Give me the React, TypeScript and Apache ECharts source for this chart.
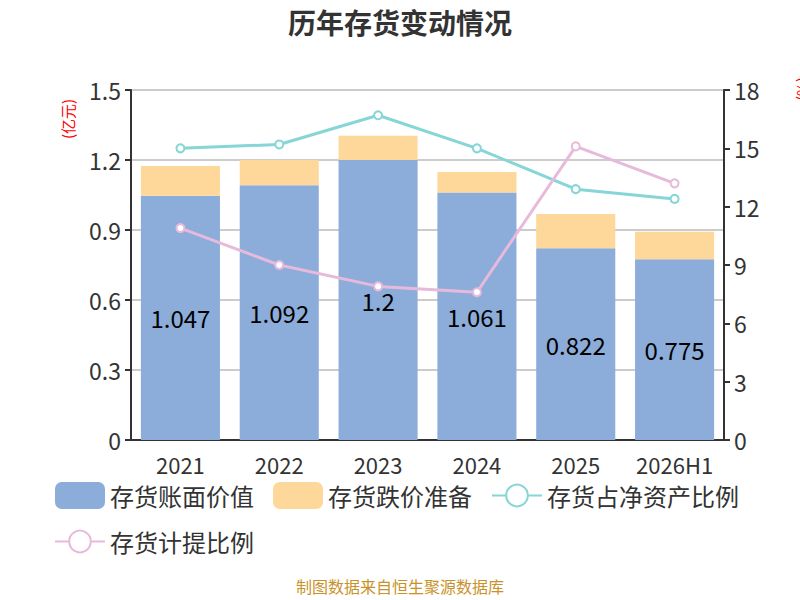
import React, { useEffect, useRef } from 'react';
import * as echarts from 'echarts';

const categories = ['2021', '2022', '2023', '2024', '2025', '2026H1'];
const bookValue = [1.047, 1.092, 1.2, 1.061, 0.822, 0.775];
const reserve = [0.127, 0.108, 0.104, 0.088, 0.147, 0.118];
const ratioNetAssets = [15.0, 15.2, 16.7, 15.0, 12.9, 12.4];
const ratioProvision = [10.9, 9.0, 7.9, 7.6, 15.1, 13.2];

const FONT = '"Noto Sans CJK SC", "Noto Sans", sans-serif';
const COLORS = {
  BLUE: '#8cacd9',
  ORANGE: '#fed89a',
  CYAN: '#86d5d7',
  PINK: '#e7badc',
  TEXT: '#333333',
  AXIS: '#333333',
  SPLIT: '#cccccc',
};

const App: React.FC = () => {
  const divEL = useRef<HTMLDivElement>(null);

  useEffect(() => {
    const instance = echarts.init(divEL.current as any, null, { renderer: 'svg' });

    const option: echarts.EChartsOption = {
      animation: false,
      textStyle: { fontFamily: FONT },
      title: {
        text: '历年存货变动情况',
        left: 'center',
        top: 3,
        textStyle: { fontSize: 28, fontWeight: 'bold', color: COLORS.TEXT, fontFamily: FONT },
      },
      legend: {
        left: 49,
        top: 477,
        width: 735,
        itemWidth: 50,
        itemHeight: 27,
        itemGap: 19,
        textStyle: { fontSize: 24, color: COLORS.TEXT, fontFamily: FONT, lineHeight: 24 },
        data: ['存货账面价值', '存货跌价准备', '存货占净资产比例', '存货计提比例'],
      },
      grid: { left: 131, right: 76, top: 90, bottom: 160 },
      xAxis: {
        type: 'category',
        data: categories,
        axisLine: { lineStyle: { color: COLORS.AXIS, width: 2 } },
        axisTick: { lineStyle: { color: COLORS.AXIS, width: 2 }, length: 6 },
        axisLabel: { fontSize: 22, lineHeight: 22, color: COLORS.TEXT, margin: 13, interval: 0 },
      },
      yAxis: [
        {
          type: 'value',
          min: 0,
          max: 1.5,
          interval: 0.3,
          axisLine: { show: true, lineStyle: { color: COLORS.AXIS, width: 2 } },
          axisTick: { show: true, lineStyle: { color: COLORS.AXIS, width: 2 }, length: 6 },
          axisLabel: { fontSize: 23, color: COLORS.TEXT, margin: 10 },
          splitLine: { lineStyle: { color: COLORS.SPLIT, width: 2 } },
        },
        {
          type: 'value',
          min: 0,
          max: 18,
          interval: 3,
          position: 'right',
          axisLine: { show: true, lineStyle: { color: COLORS.AXIS, width: 2 } },
          axisTick: { show: true, lineStyle: { color: COLORS.AXIS, width: 2 }, length: 6 },
          axisLabel: { fontSize: 23, color: COLORS.TEXT, margin: 10 },
          splitLine: { show: false },
        },
      ],
      graphic: [
        {
          type: 'text',
          x: 60,
          y: 139,
          rotation: Math.PI / 2,
          style: {
            text: '(亿元)',
            fill: '#ff0000',
            fontSize: 15,
            fontFamily: FONT,
            align: 'left',
            verticalAlign: 'top',
          },
        },
        {
          type: 'text',
          x: 794,
          y: 101,
          rotation: Math.PI / 2,
          style: {
            text: '(%)',
            fill: '#ff0000',
            fontSize: 15,
            fontFamily: FONT,
            align: 'left',
            verticalAlign: 'top',
          },
        },
        {
          type: 'text',
          left: 'center',
          top: 578,
          style: { text: '制图数据来自恒生聚源数据库', fill: '#c8922a', fontSize: 16, fontFamily: FONT },
        },
      ],
      series: [
        {
          name: '存货账面价值',
          type: 'bar',
          stack: 'inv',
          barWidth: '80%',
          itemStyle: { color: COLORS.BLUE },
          label: { show: true, position: 'inside', fontSize: 24, color: '#000000' },
          data: bookValue,
        },
        {
          name: '存货跌价准备',
          type: 'bar',
          stack: 'inv',
          barWidth: '80%',
          itemStyle: { color: COLORS.ORANGE },
          data: reserve,
        },
        {
          name: '存货占净资产比例',
          type: 'line',
          yAxisIndex: 1,
          symbol: 'emptyCircle',
          symbolSize: 8,
          lineStyle: { color: COLORS.CYAN, width: 3 },
          itemStyle: { color: COLORS.CYAN, borderWidth: 2 },
          data: ratioNetAssets,
        },
        {
          name: '存货计提比例',
          type: 'line',
          yAxisIndex: 1,
          symbol: 'emptyCircle',
          symbolSize: 8,
          lineStyle: { color: COLORS.PINK, width: 3 },
          itemStyle: { color: COLORS.PINK, borderWidth: 2 },
          data: ratioProvision,
        },
      ],
    };

    instance.setOption(option);

    return () => {
      instance.dispose();
    };
  }, []);

  return (
    <div
      ref={divEL}
      style={{ position: 'absolute', left: 0, top: 0, width: 800, height: 600 }}
    ></div>
  );
};

export default App;
